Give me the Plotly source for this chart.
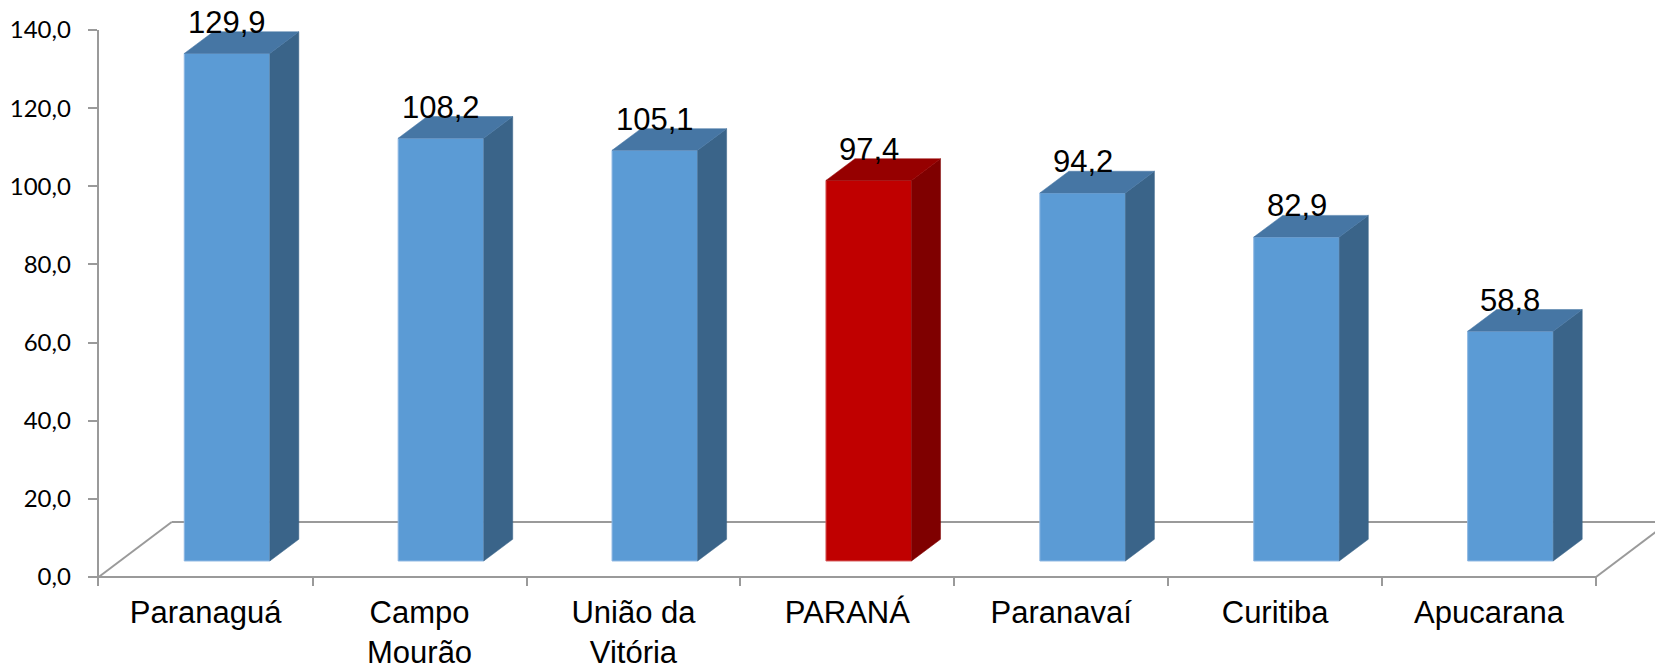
import plotly.graph_objects as go

# ---------------- data ----------------
categories = ["Paranaguá", "Campo<br>Mourão", "União da<br>Vitória", "PARANÁ",
              "Paranavaí", "Curitiba", "Apucarana"]
values = [129.9, 108.2, 105.1, 97.4, 94.2, 82.9, 58.8]
highlight = "PARANÁ"
y_ticks = [0, 20, 40, 60, 80, 100, 120, 140]

# ---------------- style / 3D geometry ----------------
W, H = 1655, 666
AX_LEFT_PX = 98.7          # pixel x of the value axis
Y0_PX, Y140_PX = 577, 30   # pixel y of value 0 and value 140
DOMAIN_BOTTOM_PX = 586
CAT_PX = 213.9             # pixel width of one category
px_per_unit = (Y0_PX - Y140_PX) / 140.0

BAR_W = 0.4                # bar width in category units
BAR_OFF = -0.1             # bar left edge relative to category centre
FLOOR_OFF = 4.1            # front face sits a little behind the floor front edge
DEPTH_DX = 29 / CAT_PX     # bar depth (x, category units)
DEPTH_DY = 21.7 / px_per_unit  # bar depth (y, value units)
FLOOR_DX = 73 / CAT_PX     # floor depth
FLOOR_DY = 55 / px_per_unit

BLUE = dict(front="#5B9BD5", side="#3A6489", top="#4676A4", edge="#8DB6E2")
RED = dict(front="#C00000", side="#7F0000", top="#960000", edge="#D65A5A")
GRID_GRAY = "#9A9A9A"

x_max = -0.5 + (W - AX_LEFT_PX) / CAT_PX
y_min = -(DOMAIN_BOTTOM_PX - Y0_PX) / px_per_unit

pal = [RED if c == highlight else BLUE for c in categories]

fig = go.Figure()
fig.add_trace(go.Bar(
    x=categories, y=values, base=FLOOR_OFF, width=BAR_W, offset=BAR_OFF,
    marker=dict(color=[p["front"] for p in pal],
                line=dict(color=[p["edge"] for p in pal], width=1)),
    hoverinfo="skip", showlegend=False,
))

shapes = []
# floor (drawn below the bars)
floor_line = dict(color=GRID_GRAY, width=2)
shapes.append(dict(type="line", xref="x", yref="y", x0=-0.5, y0=0, x1=6.5, y1=0,
                   line=floor_line, layer="below"))
shapes.append(dict(type="line", xref="x", yref="y", x0=-0.5, y0=0,
                   x1=-0.5 + FLOOR_DX, y1=FLOOR_DY, line=floor_line, layer="below"))
shapes.append(dict(type="line", xref="x", yref="y", x0=-0.5 + FLOOR_DX, y0=FLOOR_DY,
                   x1=x_max + 1, y1=FLOOR_DY, line=floor_line, layer="below"))
shapes.append(dict(type="line", xref="x", yref="y", x0=6.5, y0=0,
                   x1=6.5 + FLOOR_DX, y1=FLOOR_DY, line=floor_line, layer="below"))

annotations = []
for i, (v, p) in enumerate(zip(values, pal)):
    xl = i + BAR_OFF
    xr = xl + BAR_W
    yb = FLOOR_OFF
    yt = FLOOR_OFF + v
    side = (f"M{xr},{yb} L{xr + DEPTH_DX},{yb + DEPTH_DY} "
            f"L{xr + DEPTH_DX},{yt + DEPTH_DY} L{xr},{yt} Z")
    top = (f"M{xl},{yt} L{xr},{yt} L{xr + DEPTH_DX},{yt + DEPTH_DY} "
           f"L{xl + DEPTH_DX},{yt + DEPTH_DY} Z")
    shapes.append(dict(type="path", xref="x", yref="y", path=side,
                       fillcolor=p["side"], line=dict(color=p["side"], width=0.5),
                       layer="above"))
    shapes.append(dict(type="path", xref="x", yref="y", path=top,
                       fillcolor=p["top"], line=dict(color=p["top"], width=0.5),
                       layer="above"))
    annotations.append(dict(
        x=i + BAR_OFF + BAR_W / 2, y=yt + DEPTH_DY, xref="x", yref="y",
        text=f"{v:.1f}".replace(".", ","), showarrow=False,
        yanchor="bottom", xanchor="center", yshift=-10,
        font=dict(family="Liberation Sans, Arial", size=31, color="#000000"),
    ))

fig.update_layout(
    width=W, height=H,
    margin=dict(l=0, r=0, t=0, b=0),
    paper_bgcolor="white", plot_bgcolor="white",
    separators=",.",
    shapes=shapes, annotations=annotations,
    showlegend=False,
    xaxis=dict(
        type="category", range=[-0.5, x_max],
        domain=[AX_LEFT_PX / W, 1],
        showline=False, showgrid=False, zeroline=False,
        ticks="inside", ticklen=9, tickwidth=1.5, tickcolor=GRID_GRAY,
        tickson="boundaries",
        tickfont=dict(family="Liberation Sans, Arial", size=31, color="#000000"),
        ticklabelstandoff=5,
        automargin=False, fixedrange=True,
    ),
    yaxis=dict(
        range=[y_min, 140],
        domain=[(H - DOMAIN_BOTTOM_PX) / H, (H - Y140_PX) / H],
        tickmode="array", tickvals=y_ticks, tickformat=".1f",
        showline=True, linecolor=GRID_GRAY, linewidth=2,
        ticks="outside", ticklen=9, tickwidth=1.5, tickcolor=GRID_GRAY,
        showgrid=False, zeroline=False,
        tickfont=dict(family="Lato, Carlito, sans-serif", size=24, color="#000000"),
        ticklabelstandoff=12,
        automargin=False, fixedrange=True,
    ),
)

fig.write_html("out.html",
               config={"displayModeBar": False},
               post_script="document.body.style.margin='0';"
                           "document.body.style.overflow='hidden';")
